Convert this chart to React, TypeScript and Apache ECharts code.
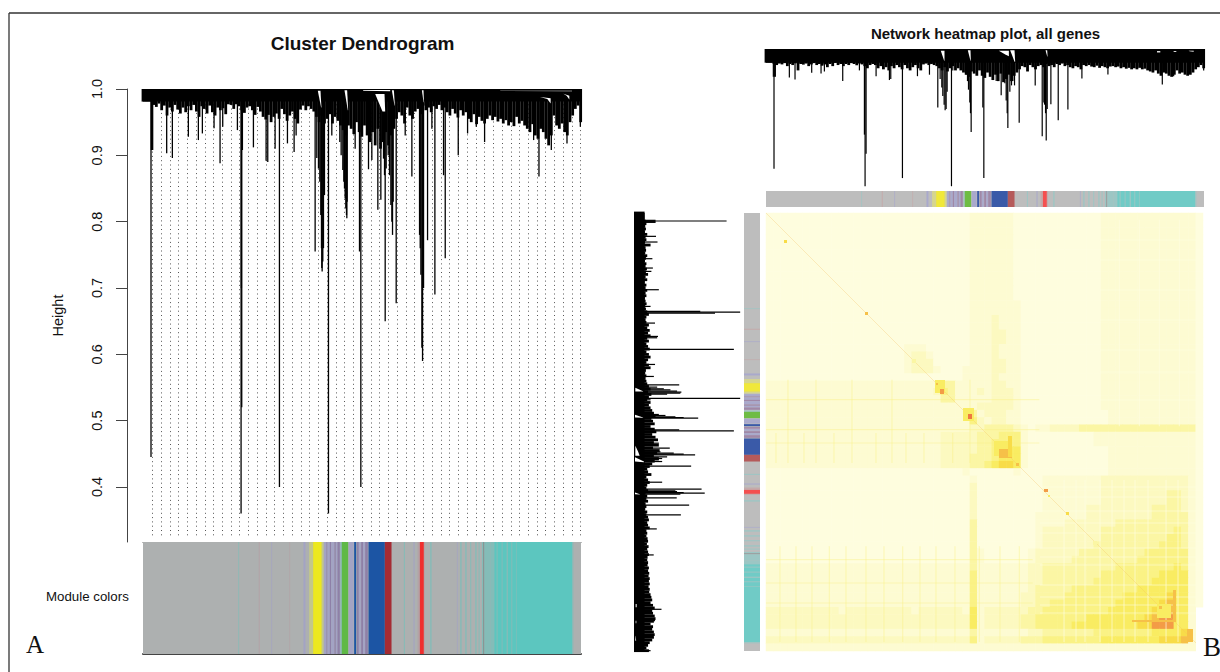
import React, { useEffect, useRef } from "react";
import * as echarts from "echarts";

const LEAVES = 1313;
const heightTicks = [0.4, 0.5, 0.6, 0.7, 0.8, 0.9, 1.0];
const bandA = [[0, LEAVES, 0.981]];
const bandB = [[0, LEAVES, 0.936]];

const contourA = [
  .981,.981,.981,.981,.976,.973,.978,.968,.975,.96,
  .972,.966,.976,.969,.963,.972,.965,.974,.968,.976,
  .966,.958,.974,.97,.963,.975,.965,.96,.972,.968,
  .971,.962,.977,.976,.97,.977,.974,.968,.964,.972,
  .974,.968,.961,.973,.966,.958,.954,.961,.95,.958,
  .963,.955,.97,.962,.952,.96,.966,.955,.948,.969,
  .975,.968,.974,.97,.966,.958,.95,.96,.948,.955,
  .962,.948,.958,.952,.945,.938,.93,.945,.94,.932,
  .95,.935,.928,.945,.93,.92,.935,.915,.94,.91,
  .92,.935,.915,.93,.94,.955,.965,.96,.948,.972,
  .96,.955,.966,.97,.962,.975,.968,.972,.965,.974,
  .97,.976,.968,.972,.965,.96,.97,.963,.957,.968,
  .96,.965,.955,.95,.962,.947,.958,.952,.948,.955,
  .96,.953,.958,.951,.955,.948,.953,.945,.95,.944,
  .958,.948,.952,.945,.94,.935,.947,.93,.925,.94,
  .935,.925,.915,.93,.96,.945,.94,.948,.935,.93,
  .95,.96,.97,.975,.95,
];
const contourB = [
  .936,.936,.936,.93,.925,.932,.928,.934,.92,.93,
  .925,.933,.9,.93,.927,.932,.92,.928,.934,.925,
  .93,.922,.928,.915,.93,.92,.935,.925,.93,.92,
  .93,.925,.934,.93,.924,.932,.928,.92,.91,.925,
  .93,.925,.91,.92,.905,.915,.9,.92,.91,.925,
  .915,.905,.925,.91,.9,.915,.925,.91,.9,.928,
  .932,.925,.93,.925,.92,.91,.9,.915,.895,.91,
  .92,.9,.91,.9,.89,.88,.87,.895,.885,.875,
  .9,.875,.865,.89,.87,.855,.88,.85,.885,.845,
  .86,.88,.85,.875,.89,.905,.92,.915,.895,.925,
  .915,.905,.92,.925,.915,.93,.92,.925,.915,.93,
  .925,.932,.92,.925,.915,.91,.92,.915,.905,.925,
  .92,.925,.918,.915,.922,.912,.92,.915,.91,.918,
  .92,.915,.918,.91,.915,.908,.912,.905,.91,.905,
  .912,.905,.908,.9,.895,.89,.9,.885,.875,.89,
  .885,.875,.87,.88,.9,.885,.89,.88,.875,.88,
  .89,.905,.915,.925,.91,
];
const leafStep = 8;

const dropsA = [
  [24,.445],[25,.908],[27,.908],[29,.908],[71,.903],[88,.896],[136,.928],[166,.923],[178,.933],[231,.888],[213,.941],[239,.943],[283,.938],
  [294,.36],[296,.52],[298,.908],[295,.7],[331,.912],[369,.892],[374,.89],[396,.91],[409,.40],[433,.918],[453,.905],[459,.93],
  [516,.755],[521,.896],[526,.88],[530,.86],[533,.81],[535,.76],[536,.73],[537,.725],[539,.74],[541,.76],[544,.84],[556,.36],[566,.93],
  [590,.92],[594,.9],[599,.878],[602,.86],[604,.85],[606,.835],[608,.82],[610,.81],[611,.805],[612,.83],
  [636,.91],[649,.755],[653,.40],[676,.879],[686,.893],[704,.818],[713,.833],[721,.895],[724,.87],[726,.65],[729,.88],[735,.9],[739,.87],[743,.825],[746,.8],[748,.78],[750,.83],
  [759,.677],[786,.93],[806,.868],[829,.78],[831,.76],[833,.72],[836,.61],[838,.59],[841,.7],[853,.772],[866,.94],[875,.69],[901,.87],[906,.745],
  [945,.9],[973,.933],[999,.943],[1024,.92],[1187,.868],[1171,.923],[1224,.908],[1271,.918],[1311,.943],
];
const dropsB = [
  [24,.441],[22,.87],[26,.87],[28,.87],[70,.867],[87,.858],[137,.889],[165,.886],[175,.895],[230,.85],[280,.9],[295,.6],[297,.359],[300,.511],[330,.873],[370,.855],[374,.86],
  [409,.397],[454,.873],[490,.88],[515,.727],[522,.86],[527,.82],[530,.78],[534,.74],[537,.714],[540,.72],[543,.8],[556,.359],[560,.9],[600,.88],[604,.85],[607,.81],[611,.75],[613,.7],[615,.6125],
  [650,.727],[653,.397],[680,.86],[690,.85],[705,.784],[716,.84],[720,.76],[723,.7],[725,.631],[731,.8],[736,.83],[740,.85],[745,.83],[759,.655],[807,.83],[828,.592],[833,.75],[835,.74],[838,.7],[840,.573],[843,.72],
  [854,.742],[876,.667],[905,.717],[947,.8625],[1025,.881],[1188,.834],[1222,.873],[1272,.882],[1312,.9],
];
const wedgesA = [
  [524,.9975,532,.9975,535,.972,534,.972],
  [604,.998,612,.998,615,.968,614,.968],
  [660,.9985,741,.9985,741,.9965,660,.9975],
  [696,.9925,724,.9925,726,.966,718,.966],
  [746,.998,752,.998,755,.975,754,.975],
  [836,.998,841,.998,842,.98,841,.98],
  [1071,.9975,1286,.9975,1286,.9965,1071,.997],
  [1190,.988,1222,.986,1222,.978,1212,.985],
  [1260,.993,1278,.99,1278,.984,1270,.99],
];
const wedgesB = [
  [524,.992,535,.992,535,.945,534,.945],
  [605,.994,613,.994,614,.945,613,.945],
  [698,.992,728,.992,728,.966,716,.975],
  [732,.994,745,.994,747,.94,745,.94],
  [838,.994,843,.994,844,.965,843,.965],
  [1172,.99,1182,.99,1182,.984,1172,.984],
  [1222,.99,1230,.99,1230,.986,1222,.986],
  [1267,.992,1282,.992,1282,.987,1270,.99],
];

const moduleSpans = [
  [0,1313,0],[286,288,10],[347,350,8],[385,387,7],[439,441,8],[481,487,7],[498,510,9],[510,536,2],[536,541,9],
  [543,550,7],[550,553,12],[553,560,7],[560,564,12],[564,574,7],[574,578,12],[578,583,7],[583,590,12],[592,596,10],[596,615,3],
  [617,631,7],[633,639,4],[641,647,12],[647,653,7],[654,660,12],[660,666,7],[666,674,12],[676,725,4],[725,745,5],
  [782,785,10],[811,814,7],[823,830,8],[830,842,6],[842,845,8],[861,865,10],[941,943,7],[951,955,10],[966,970,10],[981,984,10],[996,1000,10],[1006,1009,10],[1016,1020,10],
  [1021,1023,11],[1023,1041,10],[1041,1053,10],[1053,1287,1],[1060,1063,10],[1075,1078,10],[1090,1094,10],[1104,1107,10],[1118,1120,10],[1287,1290,10],
];
const moduleColorsA = ["#adb0b0","#5cc6bf","#ece81e","#5fb946","#1c55a4","#a52b33","#ef2e2e","#a3a3c4","#b3a2a6","#c3c78a","#84bcb8","#666b6b","#8e80a8"];
const moduleColorsB = ["#bdbdbd","#70cbc6","#f0e83a","#6ebc44","#3a5aa8","#b55a5a","#f45050","#a9a9cc","#c4aaaa","#d6d68e","#9cc6c4","#777777","#a088a8"];

const heatLevels = ["#fefdde","#fdfbd2","#fcf9c0","#fbf6a4","#faf285","#f9ec62","#f8dc48","#f6c048","#f39c46","#ee7840"];
const heatRows = [
"0000000000 0000000000 0000000011 1111000000 0000001111 1111111110",
"0000000000 0000000000 0000000011 1111000000 0000001111 1111111110",
"0000000000 0000000000 0000000011 1111000000 0000001111 1111111110",
"0000000000 0000000000 0000000011 1111000000 0000001111 1111111110",
"0000000000 0000000000 0000000011 1111000000 0000001111 1111111110",
"0000000000 0000000000 0000000011 1111000000 0000001111 1111111110",
"0000000000 0000000000 0000000011 1111000000 0000001111 1111111110",
"0000000000 0000000000 0000000011 1111000000 0000001111 1111111110",
"0000000000 0000000000 0000000011 1111000000 0000001111 1111111110",
"0000000000 0000000000 0000000011 1111000000 0000001111 1111111110",
"0000000000 0000000000 0000000011 1111000000 0000001111 1111111110",
"0000000000 0000000000 0000000011 1111000000 0000001111 1111111110",
"0000000000 0000000000 0000000011 1111100000 0000001111 1111111110",
"0000000000 0000000000 0000000011 1111100000 0000001111 1111111110",
"0000000000 0000000000 0000000011 1211100000 0000001111 1111111110",
"0000000000 0000000000 0000000011 1211100000 0000001111 1111111110",
"0000000000 0000000000 0000000011 1221100000 0000001111 1111111110",
"0000000000 0000000000 0000000011 1221100000 0000001111 1111111110",
"0000000000 0000000001 1100000011 1211100000 0000001111 1111111110",
"0000000000 0000000001 2210000011 1211100000 0000001111 1111111110",
"0000000000 0000000001 2220000011 1221100000 0000001111 1111111110",
"0000000000 0000000001 2221000111 1221100000 0000001111 1111111110",
"0000000000 0000000000 0000000111 1211100000 0000001111 1111111110",
"1111111111 1111111111 1111331111 1221100000 0000001111 1111111110",
"1111111111 1111111111 1112431112 1222100000 0000001111 1111111110",
"1111111111 1111111111 1111331111 1222100000 0000001111 1111111110",
"1111111111 1111111111 1111111112 2222100000 0000001111 1111111110",
"1111111111 1111111111 1111111131 2221100000 0000000111 1111111110",
"1111111111 1111111111 1111111142 1221100000 0000000111 1111111110",
"1111111111 1111111111 1111111122 3333210112 2223333333 3333333330",
"1111111111 1111111111 1111222223 3344410000 0000011111 1111111110",
"1111111111 1111111111 1111222223 3444410000 0000011111 1111111110",
"1111111111 1111111111 1111222223 3455510000 0000000111 1111111110",
"1111111111 1111111111 1111222233 3455510000 0000000111 1111111110",
"1111111111 1111111111 1111222233 4566510000 0000000111 1111111110",
"0000000000 0000000000 0000000100 0000100000 0000000111 1111111110",
"0000000000 0000000000 0000000010 0000000011 1111112222 2222222210",
"0000000000 0000000000 0000000020 0000000011 1111112222 2222222210",
"0000000000 0000000000 0000000020 0000000011 1111112222 2222233210",
"0000000000 0000000000 0000000020 0000000011 1111112222 2222233210",
"0000000000 0000000000 0000000020 0000000011 1111222222 2223333210",
"0000000000 0000000000 0000000020 0000000111 1111222222 2223333310",
"0000000000 0000000000 0000000030 0000000111 1222222233 3333333310",
"0000000000 0000000000 0000000030 0000000122 2222223333 3333334310",
"0000000000 0000000000 0000000030 0000000122 2222223333 3333344310",
"0000000000 0000000000 0000000030 0000000122 2222233333 3333444310",
"0000000000 0000000000 0000000031 0000001222 2223333333 3344444410",
"0000000000 0000000000 0000000031 0000001222 2233333333 3444444410",
"1111111111 1111111111 1111111131 1111112233 3333333344 4444445410",
"1111111111 1111111111 1111111141 1111112233 3333334444 4444555510",
"1111111111 1111111111 1111111141 1111112233 3333344444 4445555510",
"1111111111 1111111111 1111111141 1111112333 3344444444 4555555510",
"1111111111 1111111111 1111111141 1111122333 3444444445 5555565510",
"1111111111 1111111111 1111111141 1111122334 4444444455 5555675510",
"2222222222 1222222222 1222222151 2222223344 4444444555 555677551.",
"2222222222 2222222222 2222222251 2222233444 4444555555 556788551.",
"2222222222 2222222222 2222222251 2222233444 4455555555 566888551.",
"1111111111 1111111111 1111111131 1111112233 3333344444 444555561.",
"2222222222 2222222222 2222222241 2222233344 4444445555 555566671.",
"1111111111 1111111111 1111111111 1111111111 1111111111 111111111.",
];

const hotSpots = [
  [54,63,81,90,6],[297,306,297,306,7],[438,450,438,450,3],
  [507,537,501,540,5],[522,534,528,543,8],[510,516,510,516,7],
  [591,624,585,624,5],[606,618,603,618,9],[684,732,684,729,5],[699,738,708,735,7],[726,738,669,732,6],
  [750,759,750,759,7],[834,846,828,837,8],[846,852,846,852,5],[900,909,897,906,6],[981,993,984,996,3],
  [1173,1215,1173,1215,5],[1221,1230,1131,1227,7],[1098,1230,1221,1227,7],[1179,1188,1179,1188,7],[1263,1281,1248,1287,7],
];
const paleStripesV = [
  [894,801,1287],[957,801,1287],[1002,801,1287],[1038,801,1287],[1107,801,1287],[1146,801,1287],[1236,801,1287],
  [930,801,1287],[1074,801,1287],[1200,801,1287],
  [1060,20,640],[1120,20,640],[1180,20,640],[1240,20,640],
];
const paleStripesH = [
  [822,822,1290],[852,822,1290],[894,822,1290],[930,822,1290],[960,822,1290],[1005,822,1290],[1032,822,1290],[1056,822,1290],[1116,822,1290],[1152,822,1290],[1176,822,1290],[1200,822,1290],
  [81,1000,1290],[141,1000,1290],[231,1000,1290],[321,1000,1290],[411,1000,1290],[477,1000,1290],[561,1000,1290],
];
const warmStripesV = [
  [30,660,750],[66,500,750],[114,660,750],[150,500,750],[204,660,750],[258,500,750],[330,660,750],[378,500,750],[420,660,750],[474,660,750],[560,660,750],[612,500,750],
  [42,1000,1287],[90,1000,1287],[138,1000,1287],[190,1000,1287],[240,1000,1287],[300,1000,1287],[354,1000,1287],[410,1000,1287],[462,1000,1287],[510,1000,1287],[567,1000,1287],[640,1000,1287],[702,1000,1287],[760,1000,1287],
];
const warmStripesH = [
  [560,0,820],[650,0,820],[690,0,820],[1040,0,800],[1110,0,800],[1170,0,800],
];
const diagonal = [[0,0],[1290,1290]];

const T = (s: string) => s.replace(/ /g, "");
const heatData: number[][] = [];
heatRows.forEach((row, r) => T(row).split("").forEach((ch, c) => { if (ch !== ".") heatData.push([c, r, Number(ch)]); }));
const indexCats = heatRows.map((_, i) => String(i));

const toothData = (arr: number[]) => arr.map((h, i) => [i * leafStep, h]);

const treeLine = (horizontal: boolean, width: number) => (_: any, api: any) => {
  const leaf = api.value(0), h = api.value(1);
  const a = api.coord(horizontal ? [1, leaf] : [leaf, 1]);
  const b = api.coord(horizontal ? [h, leaf] : [leaf, h]);
  return { type: "line", shape: { x1: a[0], y1: a[1], x2: b[0], y2: b[1] }, style: { stroke: "#000", lineWidth: width } };
};
const band = (horizontal: boolean) => (_: any, api: any) => {
  const l0 = api.value(0), l1 = api.value(1), h = api.value(2);
  const a = api.coord(horizontal ? [1, l0] : [l0, 1]);
  const b = api.coord(horizontal ? [h, l1] : [l1, h]);
  return { type: "rect", shape: { x: Math.min(a[0], b[0]), y: Math.min(a[1], b[1]), width: Math.abs(a[0] - b[0]), height: Math.abs(a[1] - b[1]) }, style: { fill: "#000" } };
};
const wedge = (horizontal: boolean) => (_: any, api: any) => {
  const pts = [0, 2, 4, 6].map((i) => {
    const l = api.value(i), h = api.value(i + 1);
    return api.coord(horizontal ? [h, l] : [l, h]);
  });
  return { type: "polygon", shape: { points: pts }, style: { fill: "#fff" } };
};
const strip = (horizontal: boolean, colors: string[]) => (_: any, api: any) => {
  const l0 = api.value(0), l1 = api.value(1);
  const a = api.coord(horizontal ? [0, l0] : [l0, 0]);
  const b = api.coord(horizontal ? [1, l1] : [l1, 1]);
  return { type: "rect", shape: { x: Math.min(a[0], b[0]), y: Math.min(a[1], b[1]), width: Math.abs(a[0] - b[0]), height: Math.abs(a[1] - b[1]) }, style: { fill: colors[api.value(2)] } };
};
const hotRect = (_: any, api: any) => {
  const a = api.coord([api.value(0), api.value(2)]);
  const b = api.coord([api.value(1), api.value(3)]);
  return { type: "rect", shape: { x: a[0], y: a[1], width: b[0] - a[0], height: b[1] - a[1] }, style: { fill: heatLevels[api.value(4)] } };
};
const thinLine = (vertical: boolean, stroke: string) => (_: any, api: any) => {
  const p = api.value(0), s = api.value(1), e = api.value(2);
  const a = api.coord(vertical ? [p, s] : [s, p]);
  const b = api.coord(vertical ? [p, e] : [e, p]);
  return { type: "line", shape: { x1: a[0], y1: a[1], x2: b[0], y2: b[1] }, style: { stroke, lineWidth: 1.2 } };
};
const PALE = "rgba(255,254,225,0.55)";
const WARM = "rgba(250,240,130,0.4)";

const hiddenValue = (gridIndex: number, min: number, max: number, inverse = false) => ({
  type: "value", gridIndex, min, max, inverse, show: false, splitLine: { show: false },
});

const option: any = {
  animation: false,
  backgroundColor: "#fff",
  title: [
    { text: "Cluster Dendrogram", left: 357.5, top: 28.5, textAlign: "center", textStyle: { fontFamily: "Liberation Sans", fontSize: 19, fontWeight: "bold", color: "#111" } },
    { text: "Network heatmap plot, all genes", left: 980.5, top: 20.5, textAlign: "center", textStyle: { fontFamily: "Liberation Sans", fontSize: 15, fontWeight: "bold", color: "#111" } },
  ],
  grid: [
    { left: 143, top: 89, width: 438, height: 453 },
    { left: 152.3, top: 100, width: 428.4, height: 438 },
    { left: 143, top: 542, width: 438, height: 112 },
    { left: 766, top: 49, width: 438, height: 137 },
    { left: 766, top: 191, width: 438, height: 16 },
    { left: 634, top: 213, width: 106, height: 438 },
    { left: 744, top: 213, width: 16, height: 438 },
    { left: 766, top: 213, width: 437, height: 438 },
    { left: 766, top: 213, width: 437, height: 438 },
  ],
  xAxis: [
    { type: "value", gridIndex: 0, min: 0, max: LEAVES, axisLine: { show: true, onZero: false, lineStyle: { color: "#555", width: 1 } }, axisTick: { show: false }, axisLabel: { show: false }, splitLine: { show: false } },
    { type: "value", gridIndex: 1, min: 0, max: 49, interval: 1, axisLine: { show: false }, axisTick: { show: false }, axisLabel: { show: false }, splitLine: { show: true, lineStyle: { color: "#555", width: 1, type: [1, 3.3] } } },
    { type: "value", gridIndex: 2, min: 0, max: LEAVES, axisLine: { show: true, onZero: false, lineStyle: { color: "#444", width: 2 } }, axisTick: { show: false }, axisLabel: { show: false }, splitLine: { show: false } },
    hiddenValue(3, 0, LEAVES),
    hiddenValue(4, 0, LEAVES),
    hiddenValue(5, 0.36, 1, true),
    hiddenValue(6, 0, 1),
    { type: "category", gridIndex: 7, data: indexCats, show: false },
    hiddenValue(8, 0, 1311),
  ],
  yAxis: [
    {
      type: "value", gridIndex: 0, min: 0.317, max: 1, offset: 16,
      name: "Height", nameLocation: "middle", nameGap: 62, nameRotate: 90,
      nameTextStyle: { fontFamily: "Liberation Sans", fontSize: 14.5, color: "#111" },
      axisLine: { show: true, onZero: false, lineStyle: { color: "#444" } },
      axisTick: { show: true, length: 11, customValues: heightTicks, lineStyle: { color: "#444" } },
      axisLabel: { show: true, rotate: 90, margin: 23, customValues: heightTicks, formatter: (v: number) => v.toFixed(1), fontFamily: "Liberation Sans", fontSize: 14.5, color: "#111" },
      splitLine: { show: false },
    },
    { type: "value", gridIndex: 1, min: 0, max: 1, show: false, splitLine: { show: false } },
    hiddenValue(2, 0, 1),
    hiddenValue(3, 0.36, 1),
    hiddenValue(4, 0, 1),
    hiddenValue(5, 0, LEAVES, true),
    hiddenValue(6, 0, LEAVES, true),
    { type: "category", gridIndex: 7, data: indexCats, inverse: true, show: false },
    hiddenValue(8, 0, 1314, true),
  ],
  visualMap: { show: false, seriesIndex: 0, min: 0, max: 9, inRange: { color: heatLevels } },
  graphic: [
    { type: "line", silent: true, shape: { x1: 9, y1: 13, x2: 1220, y2: 13 }, style: { stroke: "#333", lineWidth: 1.3 } },
    { type: "line", silent: true, shape: { x1: 9, y1: 13, x2: 9, y2: 672 }, style: { stroke: "#333", lineWidth: 1.3 } },
    { type: "text", silent: true, x: 46, y: 590, style: { text: "Module colors", font: '13.3px "Liberation Sans"', fill: "#111" } },
    { type: "text", silent: true, x: 26, y: 632, style: { text: "A", font: '25px "Liberation Serif"', fill: "#111" } },
    { type: "text", silent: true, x: 1203, y: 633, style: { text: "B", font: '27px "Liberation Serif"', fill: "#111" } },
  ],
  series: [] as any[],
};

const custom = (x: number, renderItem: any, data: any[], z = 2) => ({
  type: "custom", xAxisIndex: x, yAxisIndex: x, renderItem, data, silent: true, z, clip: false,
});

option.series = [
  { type: "heatmap", xAxisIndex: 7, yAxisIndex: 7, data: heatData, silent: true, itemStyle: { borderWidth: 0 }, z: 1 },
  custom(8, thinLine(true, PALE), paleStripesV, 2),
  custom(8, thinLine(false, PALE), paleStripesH, 2),
  custom(8, thinLine(true, WARM), warmStripesV, 2),
  custom(8, thinLine(false, WARM), warmStripesH, 2),
  { type: "line", xAxisIndex: 8, yAxisIndex: 8, data: diagonal, showSymbol: false, silent: true, lineStyle: { color: "#f6c060", width: 1, opacity: 0.3 }, z: 3 },
  custom(8, hotRect, hotSpots, 4),

  custom(2, strip(false, moduleColorsA), moduleSpans),
  custom(4, strip(false, moduleColorsB), moduleSpans),
  custom(6, strip(true, moduleColorsB), moduleSpans),

  custom(0, band(false), bandA, 3),
  custom(0, treeLine(false, 2.8), toothData(contourA), 3),
  custom(0, treeLine(false, 1.3), dropsA, 3),
  custom(0, wedge(false), wedgesA, 4),

  custom(3, band(false), bandB, 3),
  custom(3, treeLine(false, 2.8), toothData(contourB), 3),
  custom(3, treeLine(false, 1.2), dropsB, 3),
  custom(3, wedge(false), wedgesB, 4),

  custom(5, band(true), bandB, 3),
  custom(5, treeLine(true, 2.8), toothData(contourB), 3),
  custom(5, treeLine(true, 1.2), dropsB, 3),
  custom(5, wedge(true), wedgesB, 4),
];

export default function App() {
  const ref = useRef<HTMLDivElement>(null);
  useEffect(() => {
    const chart = echarts.init(ref.current!, undefined, { renderer: "svg" });
    chart.setOption(option);
    return () => chart.dispose();
  }, []);
  return <div ref={ref} style={{ position: "fixed", left: 0, top: 0, width: 1220, height: 672, background: "#fff", overflow: "hidden" }} />;
}
